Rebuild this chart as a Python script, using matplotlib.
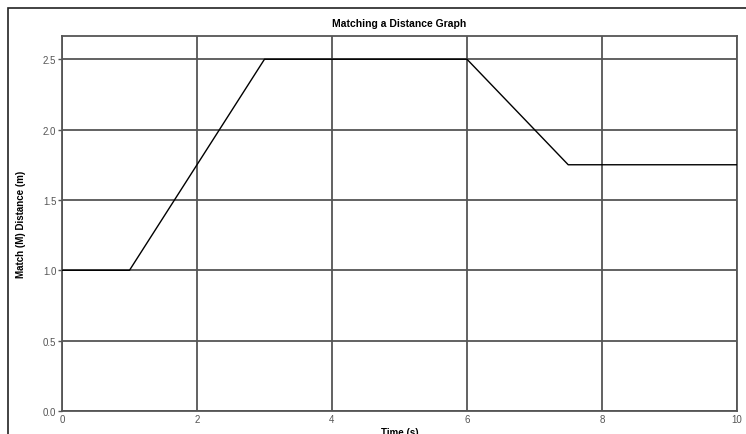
import matplotlib
matplotlib.use("Agg")
import matplotlib.pyplot as plt
from matplotlib.patches import Rectangle

# Target distance profile
time_s = [0, 1, 3, 6, 7.5, 10]
distance_m = [1.0, 1.0, 2.5, 2.5, 1.75, 1.75]

x_ticks = [0, 2, 4, 6, 8, 10]
y_ticks = [0.0, 0.5, 1.0, 1.5, 2.0, 2.5]

plt.rcParams['font.family'] = ['Liberation Sans', 'DejaVu Sans']

fig = plt.figure(figsize=(7.46, 4.35), dpi=100)
ax = fig.add_axes([0.0831, 0.0529, 0.9048, 0.862])

# outer window frame (top and left edges)
fig.add_artist(Rectangle((8 / 746, -0.2), 1.2, 1.2 - 9 / 435 + 0.0,
                         transform=fig.transFigure, fill=False,
                         edgecolor='#222222', linewidth=1.2, clip_on=False))

ax.plot(time_s, distance_m, color='black', linewidth=1.0, zorder=3)

ax.set_xlim(0, 10)
ax.set_ylim(0, 2.665)
ax.set_xticks(x_ticks)
ax.set_yticks(y_ticks)
ax.set_xticklabels([str(t) for t in x_ticks])
ax.set_yticklabels([f"{t:.1f}" for t in y_ticks])
ax.grid(True, color='#555555', linewidth=1.3)
for s in ax.spines.values():
    s.set_color('#555555')
    s.set_linewidth(1.3)
ax.tick_params(axis='both', labelsize=7, colors='#555555', length=3, width=1, pad=1)
ax.tick_params(axis='x', length=0, pad=2)

ax.set_title('Matching a Distance Graph', fontsize=7.5, fontweight='bold', pad=7)
ax.set_xlabel('Time (s)', fontsize=7, fontweight='bold', labelpad=2)
ax.set_ylabel('Match (M) Distance (m)', fontsize=7, fontweight='bold', labelpad=12)

fig.savefig('out.png', dpi=100)
